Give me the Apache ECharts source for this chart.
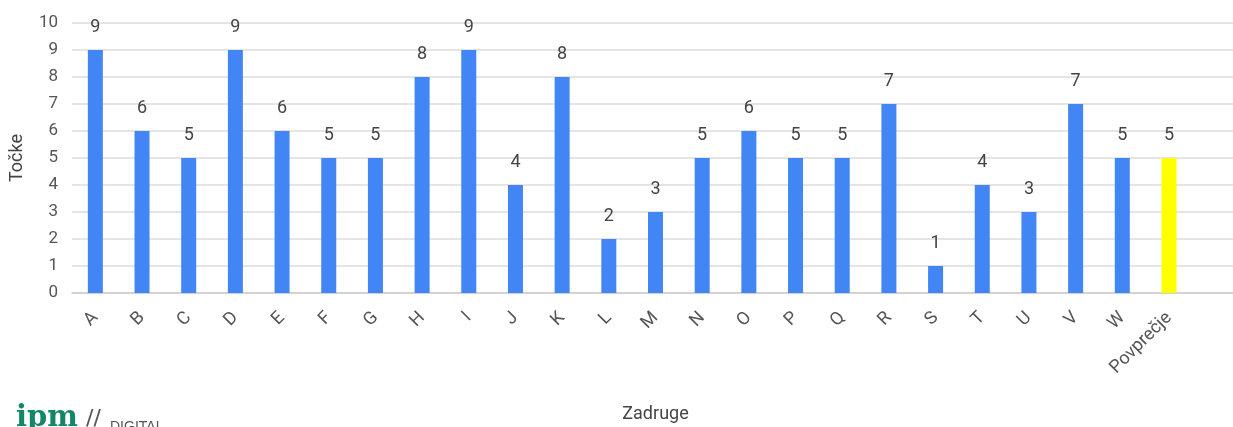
<!DOCTYPE html>
<html><head><meta charset="utf-8">
<script src="https://cdn.jsdelivr.net/npm/echarts@6/dist/echarts.min.js"></script>
<style>html,body{margin:0;padding:0;background:#fff}#c{width:1233px;height:427px}</style>
</head><body><div id="c"></div>
<script>
const categories = ['A','B','C','D','E','F','G','H','I','J','K','L','M','N','O','P','Q','R','S','T','U','V','W','Povprečje'];
const values = [9,6,5,9,6,5,5,8,9,4,8,2,3,5,6,5,5,7,1,4,3,7,5,5];
const highlightIndex = 23;
const yTicks = [0,1,2,3,4,5,6,7,8,9,10];

const chart = echarts.init(document.getElementById('c'));
chart.setOption({
  animation:false,
  textStyle:{fontFamily:'Roboto'},
  grid:{left:72, top:23, width:1167, height:270, containLabel:false, outerBoundsMode:'none'},
  xAxis:{
    type:'category', data:categories, max:24,
    axisTick:{show:false},
    axisLine:{lineStyle:{color:'#cccccc', width:1.5}},
    axisLabel:{rotate:45, color:'#555', fontSize:18, margin:22, interval:0, fontFamily:'Roboto'},
    name:'Zadruge', nameLocation:'middle', nameGap:112,
    nameTextStyle:{color:'#444', fontSize:18, fontFamily:'Roboto'}
  },
  yAxis:{
    type:'value', min:yTicks[0], max:yTicks[yTicks.length-1], interval:1,
    axisLine:{show:false}, axisTick:{show:false},
    splitLine:{lineStyle:{color:'#dddddd', width:1.5}},
    axisLabel:{color:'#555', fontSize:17, margin:14, fontFamily:'Roboto'},
    name:'Točke', nameLocation:'middle', nameGap:46, nameRotate:90,
    nameTextStyle:{color:'#444', fontSize:18, fontFamily:'Roboto'}
  },
  series:[{
    type:'bar', barWidth:15,
    data: values.map((v,i)=>({value:v, itemStyle:{color: i===highlightIndex ? '#FFFF00' : '#4285F4'}})),
    label:{show:true, position:'top', distance:14, color:'#444', fontSize:18, fontFamily:'Roboto'}
  }],
  graphic:[
    {type:'text', left:16, top:404, style:{text:'ipm', font:'bold 29px "DejaVu Serif", serif', fill:'#13866a'}},
    {type:'text', left:86, top:408, style:{text:'//', font:'22px "DejaVu Sans", sans-serif', fill:'#555'}},
    {type:'text', left:110, top:420, style:{text:'DIGITAL', font:'14px "Liberation Sans", sans-serif', fill:'#555'}}
  ]
});
</script></body></html>
